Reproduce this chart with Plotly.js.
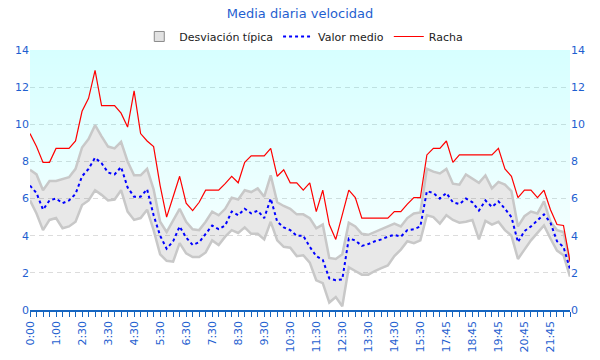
<!DOCTYPE html>
<html>
<head>
<meta charset="utf-8">
<script src="https://cdn.plot.ly/plotly-3.0.1.min.js"></script>
<style>html,body{margin:0;padding:0;background:#fff;}#chart{width:600px;height:360px;}</style>
</head>
<body>
<div id="chart"></div>
<script>
const times = ["0:00","0:15","0:30","0:45","1:00","1:15","1:45","2:00","2:30","2:45","3:00","3:15","3:30","3:45","4:00","4:15","4:30","4:45","5:00","5:15","5:30","5:45","6:00","6:15","6:30","6:45","7:00","7:15","7:30","7:45","8:00","8:15","8:30","8:45","9:00","9:15","9:30","9:45","10:00","10:15","10:30","10:45","11:00","11:15","11:30","11:45","12:00","12:15","12:30","12:45","13:00","13:15","13:30","13:45","14:00","14:15","14:30","14:45","15:00","15:15","15:30","15:45","16:15","17:00","17:45","18:00","18:15","18:30","18:45","19:00","19:15","19:30","19:45","20:00","20:15","20:30","20:45","21:00","21:15","21:30","21:45","22:00","22:15","22:30"];

const racha = [9.5,8.8,7.95,7.95,8.7,8.7,8.7,9.1,10.7,11.4,12.9,11.0,11.0,11.0,10.6,9.85,11.8,9.5,9.1,8.8,6.7,5.0,6.1,7.2,5.75,5.35,5.8,6.45,6.45,6.45,6.8,7.2,6.85,7.95,8.3,8.3,8.3,8.7,7.2,7.55,6.85,6.85,6.45,6.85,5.3,6.45,4.6,3.8,5.2,6.45,6.05,4.95,4.95,4.95,4.95,4.95,5.3,5.3,5.7,6.05,6.05,8.35,8.7,8.7,9.1,7.95,8.35,8.35,8.35,8.35,8.35,8.35,8.7,7.6,7.2,6.05,6.45,6.45,6.05,6.45,5.4,4.6,4.55,2.6];

const valorMedio = [6.7,6.3,5.4,5.9,6.0,5.75,5.9,6.25,7.2,7.6,8.2,7.9,7.4,7.3,7.7,6.6,6.1,6.1,6.5,5.1,4.0,3.3,3.7,4.5,3.9,3.5,3.65,4.1,4.55,4.35,4.55,5.3,5.1,5.45,5.2,5.35,4.95,6.0,4.75,4.45,4.3,4.0,4.0,3.4,2.9,2.7,1.7,1.6,1.65,3.85,3.75,3.45,3.55,3.7,3.8,3.95,4.05,3.95,4.3,4.35,4.5,6.4,6.3,6.0,6.3,5.8,5.7,6.0,5.8,5.35,5.9,5.55,5.85,5.45,5.0,3.65,4.25,4.5,4.85,5.15,4.7,3.7,3.4,2.2];

const desvSup = [7.55,7.3,6.45,6.95,6.95,7.05,7.15,7.6,8.75,9.2,9.95,9.35,8.8,8.7,9.05,8.0,7.25,7.25,7.6,6.5,4.75,4.2,4.8,5.45,4.75,4.35,4.3,4.75,5.3,5.1,5.45,6.05,5.95,6.45,6.35,6.55,6.1,7.25,5.8,5.6,5.45,5.15,5.15,4.95,4.4,4.6,2.8,2.75,3.0,4.7,4.5,4.1,4.05,4.2,4.35,4.5,4.65,4.5,4.95,5.2,5.25,7.6,7.45,7.35,7.6,6.8,6.75,7.3,7.05,6.85,7.25,6.55,6.9,6.75,6.4,4.5,5.05,5.3,5.2,5.85,4.75,4.3,4.2,2.6];

const desvInf = [5.9,5.2,4.3,4.85,4.95,4.4,4.5,4.75,5.65,5.9,6.45,6.2,5.9,5.95,6.45,5.3,4.85,4.95,5.4,4.3,3.0,2.65,2.6,3.6,3.05,2.85,2.85,3.1,3.75,3.5,3.95,4.3,4.15,4.45,4.1,4.1,3.8,4.75,3.75,3.4,3.35,2.9,2.95,2.55,1.6,1.45,0.4,0.7,0.2,2.3,2.1,1.9,1.9,2.1,2.25,2.4,2.9,3.25,3.7,3.6,3.75,5.1,5.0,4.65,5.1,4.85,4.7,4.75,4.85,3.8,4.8,4.6,4.75,4.3,4.0,2.75,3.25,3.75,4.15,4.55,3.85,3.2,2.95,1.8];

const yTicks = [0,2,4,6,8,10,12,14];
const labelStep = 4;

const idx = times.map((t, i) => i);
const tickVals = idx.filter(i => i % labelStep === 0);
const tickText = tickVals.map(i => times[i]);
const yMax = yTicks[yTicks.length - 1];

const blueTxt = '#1f5fd0';
const axisBlue = '#1565c0';

const traces = [
  {x:[null], y:[null], mode:'markers', name:'Desviación típica',
   marker:{symbol:'square', size:10, color:'#e2e2e2', line:{color:'#8a8a8a', width:1}},
   hoverinfo:'skip'},
  {x: idx.concat(idx.slice().reverse()),
   y: desvSup.concat(idx.map(() => yMax)),
   mode:'lines', fill:'toself', line:{width:0},
   fillgradient:{type:'vertical', start:0, stop:yMax,
     colorscale:[[0,'rgba(0,255,255,0)'],[1,'rgba(0,255,255,0.16)']]},
   showlegend:false, hoverinfo:'skip'},
  {x: idx, y: desvInf, mode:'lines', line:{color:'#c8c8c8', width:2.5},
   showlegend:false, hoverinfo:'skip'},
  {x: idx, y: desvSup, mode:'lines', fill:'tonexty', fillcolor:'rgba(0,0,0,0.09)',
   line:{color:'#c8c8c8', width:2.5}, showlegend:false, hoverinfo:'skip'},
  {x: idx, y: valorMedio, mode:'lines', name:'Valor medio',
   line:{color:'#0000ff', width:2, dash:'dot'}},
  {x: idx, y: racha, mode:'lines', name:'Racha', yaxis:'y2',
   line:{color:'#ff0000', width:1.2}}
];

const layout = {
  width:600, height:360,
  margin:{l:30, r:30, t:50, b:50},
  paper_bgcolor:'#ffffff', plot_bgcolor:'#ffffff',
  font:{family:'DejaVu Sans, Verdana, sans-serif', size:11, color:'#222'},
  title:{text:'Media diaria velocidad', font:{size:13, color:blueTxt, family:'DejaVu Sans'},
         x:0.5, xanchor:'center', y:0.964, yanchor:'middle'},
  showlegend:true,
  legend:{orientation:'h', traceorder:'normal', x:0.507, xanchor:'center', y:1.052, yanchor:'middle',
          font:{size:11, color:'#222'}, bgcolor:'rgba(0,0,0,0)', itemwidth:30},
  xaxis:{range:[0, idx.length - 1], tickmode:'array', tickvals:tickVals, ticktext:tickText,
         tickangle:-90, ticks:'outside', ticklen:5, tickcolor:axisBlue, tickwidth:1,
         showline:true, linecolor:axisBlue, linewidth:1.5, showgrid:false, zeroline:false,
         tickfont:{size:11, color:blueTxt},
         minor:{dtick:1, tick0:0, ticks:'outside', ticklen:5, tickcolor:axisBlue, tickwidth:1, showgrid:false}},
  yaxis:{range:[0, yMax], tickmode:'array', tickvals:yTicks, showgrid:true,
         gridcolor:'#dcdcdc', griddash:'5px,4px', gridwidth:1, zeroline:false,
         showline:false, ticks:'', tickfont:{size:11, color:blueTxt}},
  yaxis2:{range:[0, yMax], overlaying:'y', side:'right', tickmode:'array', tickvals:yTicks,
          showgrid:false, zeroline:false, showline:false, ticks:'',
          tickfont:{size:11, color:blueTxt}}
};

Plotly.newPlot('chart', traces, layout, {displayModeBar:false, staticPlot:true});
</script>
</body>
</html>
